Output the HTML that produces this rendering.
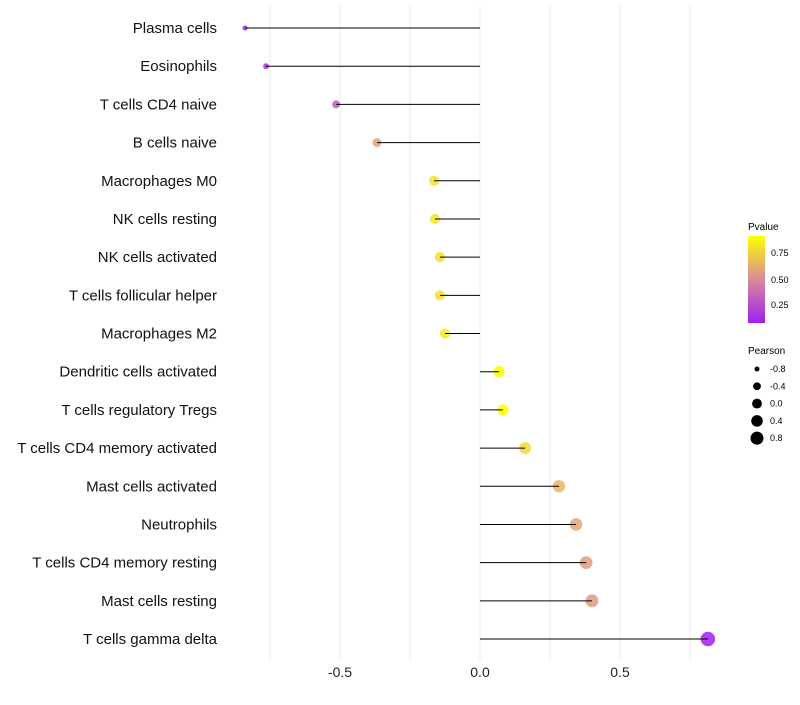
<!DOCTYPE html>
<html><head><meta charset="utf-8"><style>
body{margin:0;background:#fff;font-family:"Liberation Sans",sans-serif}
</style></head><body>
<svg id="chart" width="800" height="700" xmlns="http://www.w3.org/2000/svg">
<defs><linearGradient id="pg" x1="0" y1="1" x2="0" y2="0">
<stop offset="0" stop-color="#A020F0"/><stop offset="0.5" stop-color="#D98A9A"/><stop offset="1" stop-color="#FFFF00"/>
</linearGradient></defs>
<g id="grid"></g><g id="dots"></g><g id="marks"></g><g id="labels"></g>
<g font-size="9" fill="#000">
<text x="748" y="230" font-size="10">Pvalue</text>
<rect x="748" y="236" width="17" height="87" fill="url(#pg)"/>
<text x="771" y="256">0.75</text>
<text x="771" y="283">0.50</text>
<text x="771" y="308">0.25</text>
<text x="748" y="354" font-size="10">Pearson</text>
<g id="sizeleg"></g>
</g>
</svg>
<script>
const categories=["Plasma cells","Eosinophils","T cells CD4 naive","B cells naive","Macrophages M0","NK cells resting","NK cells activated","T cells follicular helper","Macrophages M2","Dendritic cells activated","T cells regulatory  Tregs ","T cells CD4 memory activated","Mast cells activated","Neutrophils","T cells CD4 memory resting","Mast cells resting","T cells gamma delta"];
const pearson=[-0.839,-0.764,-0.514,-0.368,-0.164,-0.161,-0.143,-0.143,-0.125,0.068,0.082,0.161,0.282,0.343,0.379,0.4,0.814];
const pvalues=[0.03,0.08,0.3,0.6,0.85,0.87,0.85,0.85,0.88,0.97,0.98,0.82,0.68,0.62,0.58,0.56,0.02];
const xTicks=[-0.5,0,0.5];
const xTickLabels=["-0.5","0.0","0.5"];
const legendSizes=[-0.8,-0.4,0.0,0.4,0.8];
const NS="http://www.w3.org/2000/svg";
const x=v=>480+v*280;
const y=i=>28+i*(611/(categories.length-1));
const r=v=>Math.sqrt(Math.max(4,30+28*v));
function lerp(a,b,t){return a.map((c,k)=>Math.round(c+(b[k]-c)*t));}
function col(p){const lo=0.02,hi=0.98;let t=Math.max(0,Math.min(1,(p-lo)/(hi-lo)));
const A=[160,32,240],M=[217,138,154],B=[255,255,0];
const c=t<0.5?lerp(A,M,t*2):lerp(M,B,(t-0.5)*2);return `rgb(${c})`;}
function mk(tag,at,par){const e=document.createElementNS(NS,tag);for(const k in at)e.setAttribute(k,at[k]);par.appendChild(e);return e;}
const grid=document.getElementById('grid'),marks=document.getElementById('marks'),dots=document.getElementById('dots'),labels=document.getElementById('labels');
[-0.75,-0.5,-0.25,0,0.25,0.5,0.75].forEach(v=>{
const l=mk('line',{x1:x(v),x2:x(v),y1:5,y2:660,stroke:'#ebebeb','stroke-width':1},grid);


});
xTicks.forEach((v,i)=>{
const t=mk('text',{x:x(v),y:677,'text-anchor':'middle','font-size':14,fill:'#222'},labels);t.textContent=xTickLabels[i];


});
categories.forEach((c,i)=>{
const t=mk('text',{x:217,y:y(i)+5,'text-anchor':'end','font-size':15,fill:'#111','xml:space':'preserve'},labels);t.textContent=c;


const d=mk('circle',{cx:x(pearson[i]),cy:y(i),r:r(pearson[i]),fill:col(pvalues[i]),'fill-opacity':0.85},dots);


const s=mk('line',{x1:x(0),x2:x(pearson[i]),y1:y(i),y2:y(i),stroke:'#000','stroke-width':1},marks);


});
const sl=document.getElementById('sizeleg');
legendSizes.forEach((v,i)=>{
const cy=369+i*17.3;
const c=mk('circle',{cx:757,cy:cy,r:r(v)*0.9,fill:'#000'},sl);


const t=mk('text',{x:770,y:cy+3},sl);t.textContent=v.toFixed(1);


});
</script>
</body></html>
